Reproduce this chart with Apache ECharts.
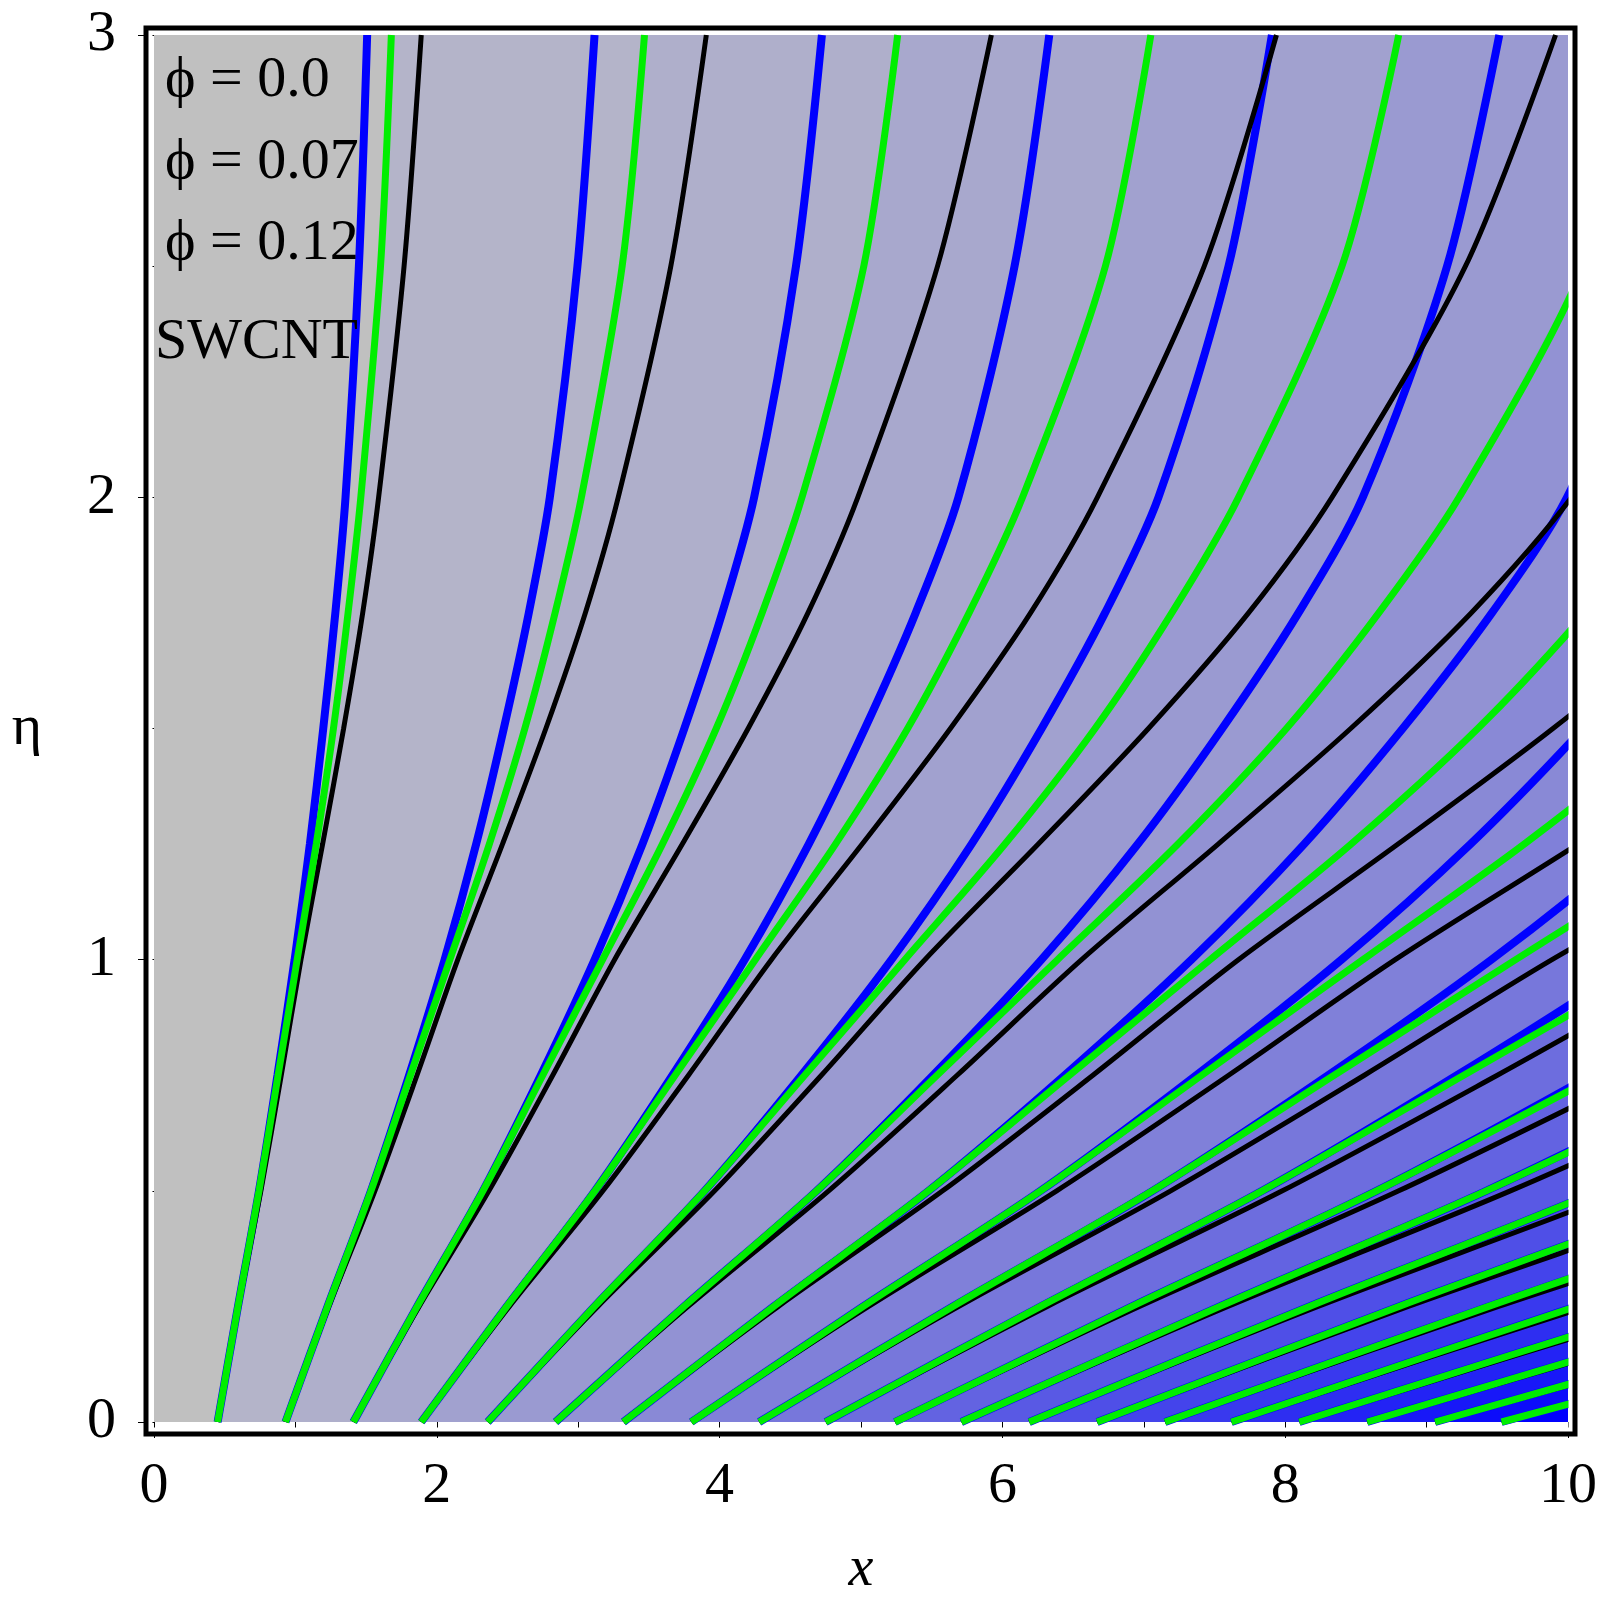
<!DOCTYPE html>
<html><head><meta charset="utf-8">
<script src="https://cdn.jsdelivr.net/npm/echarts@6/dist/echarts.min.js"></script>
<style>html,body{margin:0;padding:0;background:#fff}#c{width:1622px;height:1603px}</style>
</head><body><div id="c"></div>
<script>
// streamline start positions on eta = 0
var startX = [0.45, 0.93, 1.41, 1.89, 2.36, 2.84, 3.32, 3.80, 4.28, 4.75,
              5.24, 5.71, 6.19, 6.67, 7.15, 7.62, 8.10, 8.58, 9.06, 9.53];
// eta levels and how far each contour has moved (x / startX), read per phi
var etaLevels  = [0, 0.25, 0.5, 0.75, 1, 1.25, 1.5, 1.75, 2, 2.5, 3];
var greenRatio = [1, 1.32, 1.65, 1.95, 2.25, 2.55, 2.82, 3.05, 3.25, 3.56, 3.73];
var blueRatio  = [1, 1.32, 1.65, 1.94, 2.21, 2.45, 2.66, 2.85, 3.01, 3.22, 3.35];
var blackRatio = [1, 1.33, 1.68, 2.00, 2.31, 2.65, 2.98, 3.28, 3.53, 3.93, 4.20];
var legendText = ['\u03d5 = 0.0', '\u03d5 = 0.07', '\u03d5 = 0.12', 'SWCNT'];

var FONT = 'Liberation Serif';
function curve(x0, ratio) {
  return etaLevels.map(function (e, i) { return [x0 * ratio[i], e]; });
}
function bandColor(k) {
  var t = Math.pow((k + 1) / startX.length, 1.3);
  var r = Math.round(184 - 184 * t), g = r, b = Math.round(200 + 55 * t);
  return 'rgb(' + r + ',' + g + ',' + b + ')';
}

var series = [];
// filled bands: area to the right of each contour
series.push({
  type: 'custom', clip: true, silent: true, z: 1,
  data: startX.map(function (x0, k) { return k; }),
  renderItem: function (params, api) {
    var k = api.value(0);
    var pts = curve(startX[k], greenRatio).map(function (p) { return api.coord(p); });
    pts.push(api.coord([40, 3]), api.coord([40, 0]));
    return { type: 'polygon', shape: { points: pts, smooth: 0 },
             style: { fill: bandColor(k) } };
  },
  encode: { x: 0, y: 0 }
});
function addLines(ratio, color, width, z) {
  startX.forEach(function (x0) {
    series.push({ type: 'line', data: curve(x0, ratio), smooth: 0.3, showSymbol: false,
      clip: true, z: z, lineStyle: { color: color, width: width }, silent: true });
  });
}
addLines(blueRatio, '#0000ff', 8, 3);
addLines(blackRatio, '#000000', 5, 4);
addLines(greenRatio, '#00ee00', 7, 5);

var chart = echarts.init(document.getElementById('c'));
chart.setOption({
  animation: false,
  grid: { left: 154, right: 54, top: 35, bottom: 175, show: true,
          backgroundColor: '#c0c0c0', borderWidth: 0 },
  xAxis: { type: 'value', min: 0, max: 10, interval: 2,
    name: 'x', nameLocation: 'middle', nameGap: 120,
    nameTextStyle: { fontFamily: FONT, fontStyle: 'italic', fontSize: 56, color: '#000' },
    axisLine: { show: false }, splitLine: { show: false },
    axisTick: { show: true, length: 16, lineStyle: { color: '#000', width: 1 } },
    minorTick: { show: true, splitNumber: 2, length: 10, lineStyle: { color: '#000', width: 1 } },
    axisLabel: { fontFamily: FONT, fontSize: 58, color: '#000', margin: 36 } },
  yAxis: { type: 'value', min: 0, max: 3, interval: 1,
    name: '\u03b7', nameLocation: 'middle', nameGap: 112, nameRotate: 0,
    nameTextStyle: { fontFamily: FONT, fontSize: 58, color: '#000' },
    axisLine: { show: false }, splitLine: { show: false },
    axisTick: { show: true, length: 16, lineStyle: { color: '#000', width: 1 } },
    minorTick: { show: true, splitNumber: 2, length: 10, lineStyle: { color: '#000', width: 1 } },
    axisLabel: { fontFamily: FONT, fontSize: 58, color: '#000', margin: 38 } },
  graphic: [
    { type: 'rect', z: 100, silent: true,
      shape: { x: 146, y: 28, width: 1429, height: 1406 },
      style: { fill: 'none', stroke: '#000', lineWidth: 5 } },
    { type: 'rect', z: 99, silent: true,
      shape: { x: 150, y: 31, width: 1421, height: 1399 },
      style: { fill: 'none', stroke: '#fff', lineWidth: 5 } },
    { type: 'text', z: 100, left: 165, top: 52, style: { text: legendText[0], font: '58px "' + FONT + '"', fill: '#000' } },
    { type: 'text', z: 100, left: 165, top: 134, style: { text: legendText[1], font: '58px "' + FONT + '"', fill: '#000' } },
    { type: 'text', z: 100, left: 165, top: 215, style: { text: legendText[2], font: '58px "' + FONT + '"', fill: '#000' } },
    { type: 'text', z: 100, left: 155, top: 314, style: { text: legendText[3], font: '58px "' + FONT + '"', fill: '#000' } }
  ],
  series: series
});
</script></body></html>
